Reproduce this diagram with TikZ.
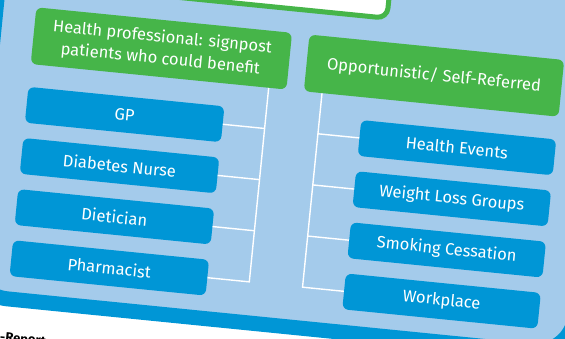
\documentclass[tikz,border=0pt]{standalone}
\usepackage{fontspec}
\setmainfont{Fira Sans}
\usepackage{xcolor}
\usetikzlibrary{positioning}
\definecolor{panelblue}{HTML}{A4CBEB}
\definecolor{boxblue}{HTML}{0096D6}
\definecolor{boxgreen}{HTML}{46B549}

\begin{document}
\begin{tikzpicture}[x=1pt, y=-1pt, font=\fontsize{16.5}{22}\selectfont]
			\tikzstyle{group} = [rectangle, rounded corners=6pt, minimum width=257pt, minimum height=57pt, text centered, align=center, fill=boxgreen, text=white, inner sep=2pt]
			
			\tikzstyle{member} = [rectangle, rounded corners=6pt, minimum width=197pt, minimum height=36pt, text centered, fill=boxblue, text=white, inner sep=2pt]
			
			\tikzstyle{link} = [draw=white, line width=1.4pt]
			
			\useasboundingbox (0,0) rectangle (565,338);
			\clip (0,0) rectangle (565,338);
			\fill [white] (0,0) rectangle (565,338);
			
			\begin{scope}[rotate around={-5.7:(282,169)}, transform shape]
			% Panel and the box above it
			\draw [line width=15pt, draw=boxblue, fill=panelblue, rounded corners=40pt] (-18.5,-200) rectangle (588.5,325.5);
			\draw [line width=5pt, draw=boxgreen, fill=white, rounded corners=10pt] (-100,-200) rectangle (371.5,8.5);
			\node (report) [anchor=north west, inner sep=0pt, font=\bfseries\fontsize{13}{15}\selectfont] at (18,359) {-Report};
			
			% Level 1 nodes
			\node (health) [group] at (150,61) {Health professional: signpost\\patients who could benefit};
			\node (opp) [group, minimum width=256pt] at (424,61) {Opportunistic/ Self-Referred};
			
			% Level 2 nodes
			\node (gp) [member, below=22.5pt of health.south west, anchor=north west] {GP};
			\node (nurse) [member, below=15pt of gp] {Diabetes Nurse};
			\node (diet) [member, below=15pt of nurse] {Dietician};
			\node (pharm) [member, below=15pt of diet] {Pharmacist};
			
			\node (events) [member, minimum width=196pt, below=22.5pt of opp.south east, anchor=north east] {Health Events};
			\node (weight) [member, minimum width=196pt, below=15pt of events] {Weight Loss Groups};
			\node (smoke) [member, minimum width=196pt, below=15pt of weight] {Smoking Cessation};
			\node (work) [member, minimum width=196pt, below=15pt of smoke] {Workplace};
			
			% Lines
			\draw [link] ([xshift=-18pt]health.south east) -- ([xshift=42pt]pharm.east) -- (pharm.east);
			\foreach \n in {gp, nurse, diet}
				\draw [link] (\n.east) -- ([xshift=42pt]\n.east);
			\draw [link] ([xshift=18.5pt]opp.south west) -- ([xshift=-41.5pt]work.west) -- (work.west);
			\foreach \n in {events, weight, smoke}
				\draw [link] (\n.west) -- ([xshift=-41.5pt]\n.west);
			\end{scope}
		\end{tikzpicture}
\end{document}
